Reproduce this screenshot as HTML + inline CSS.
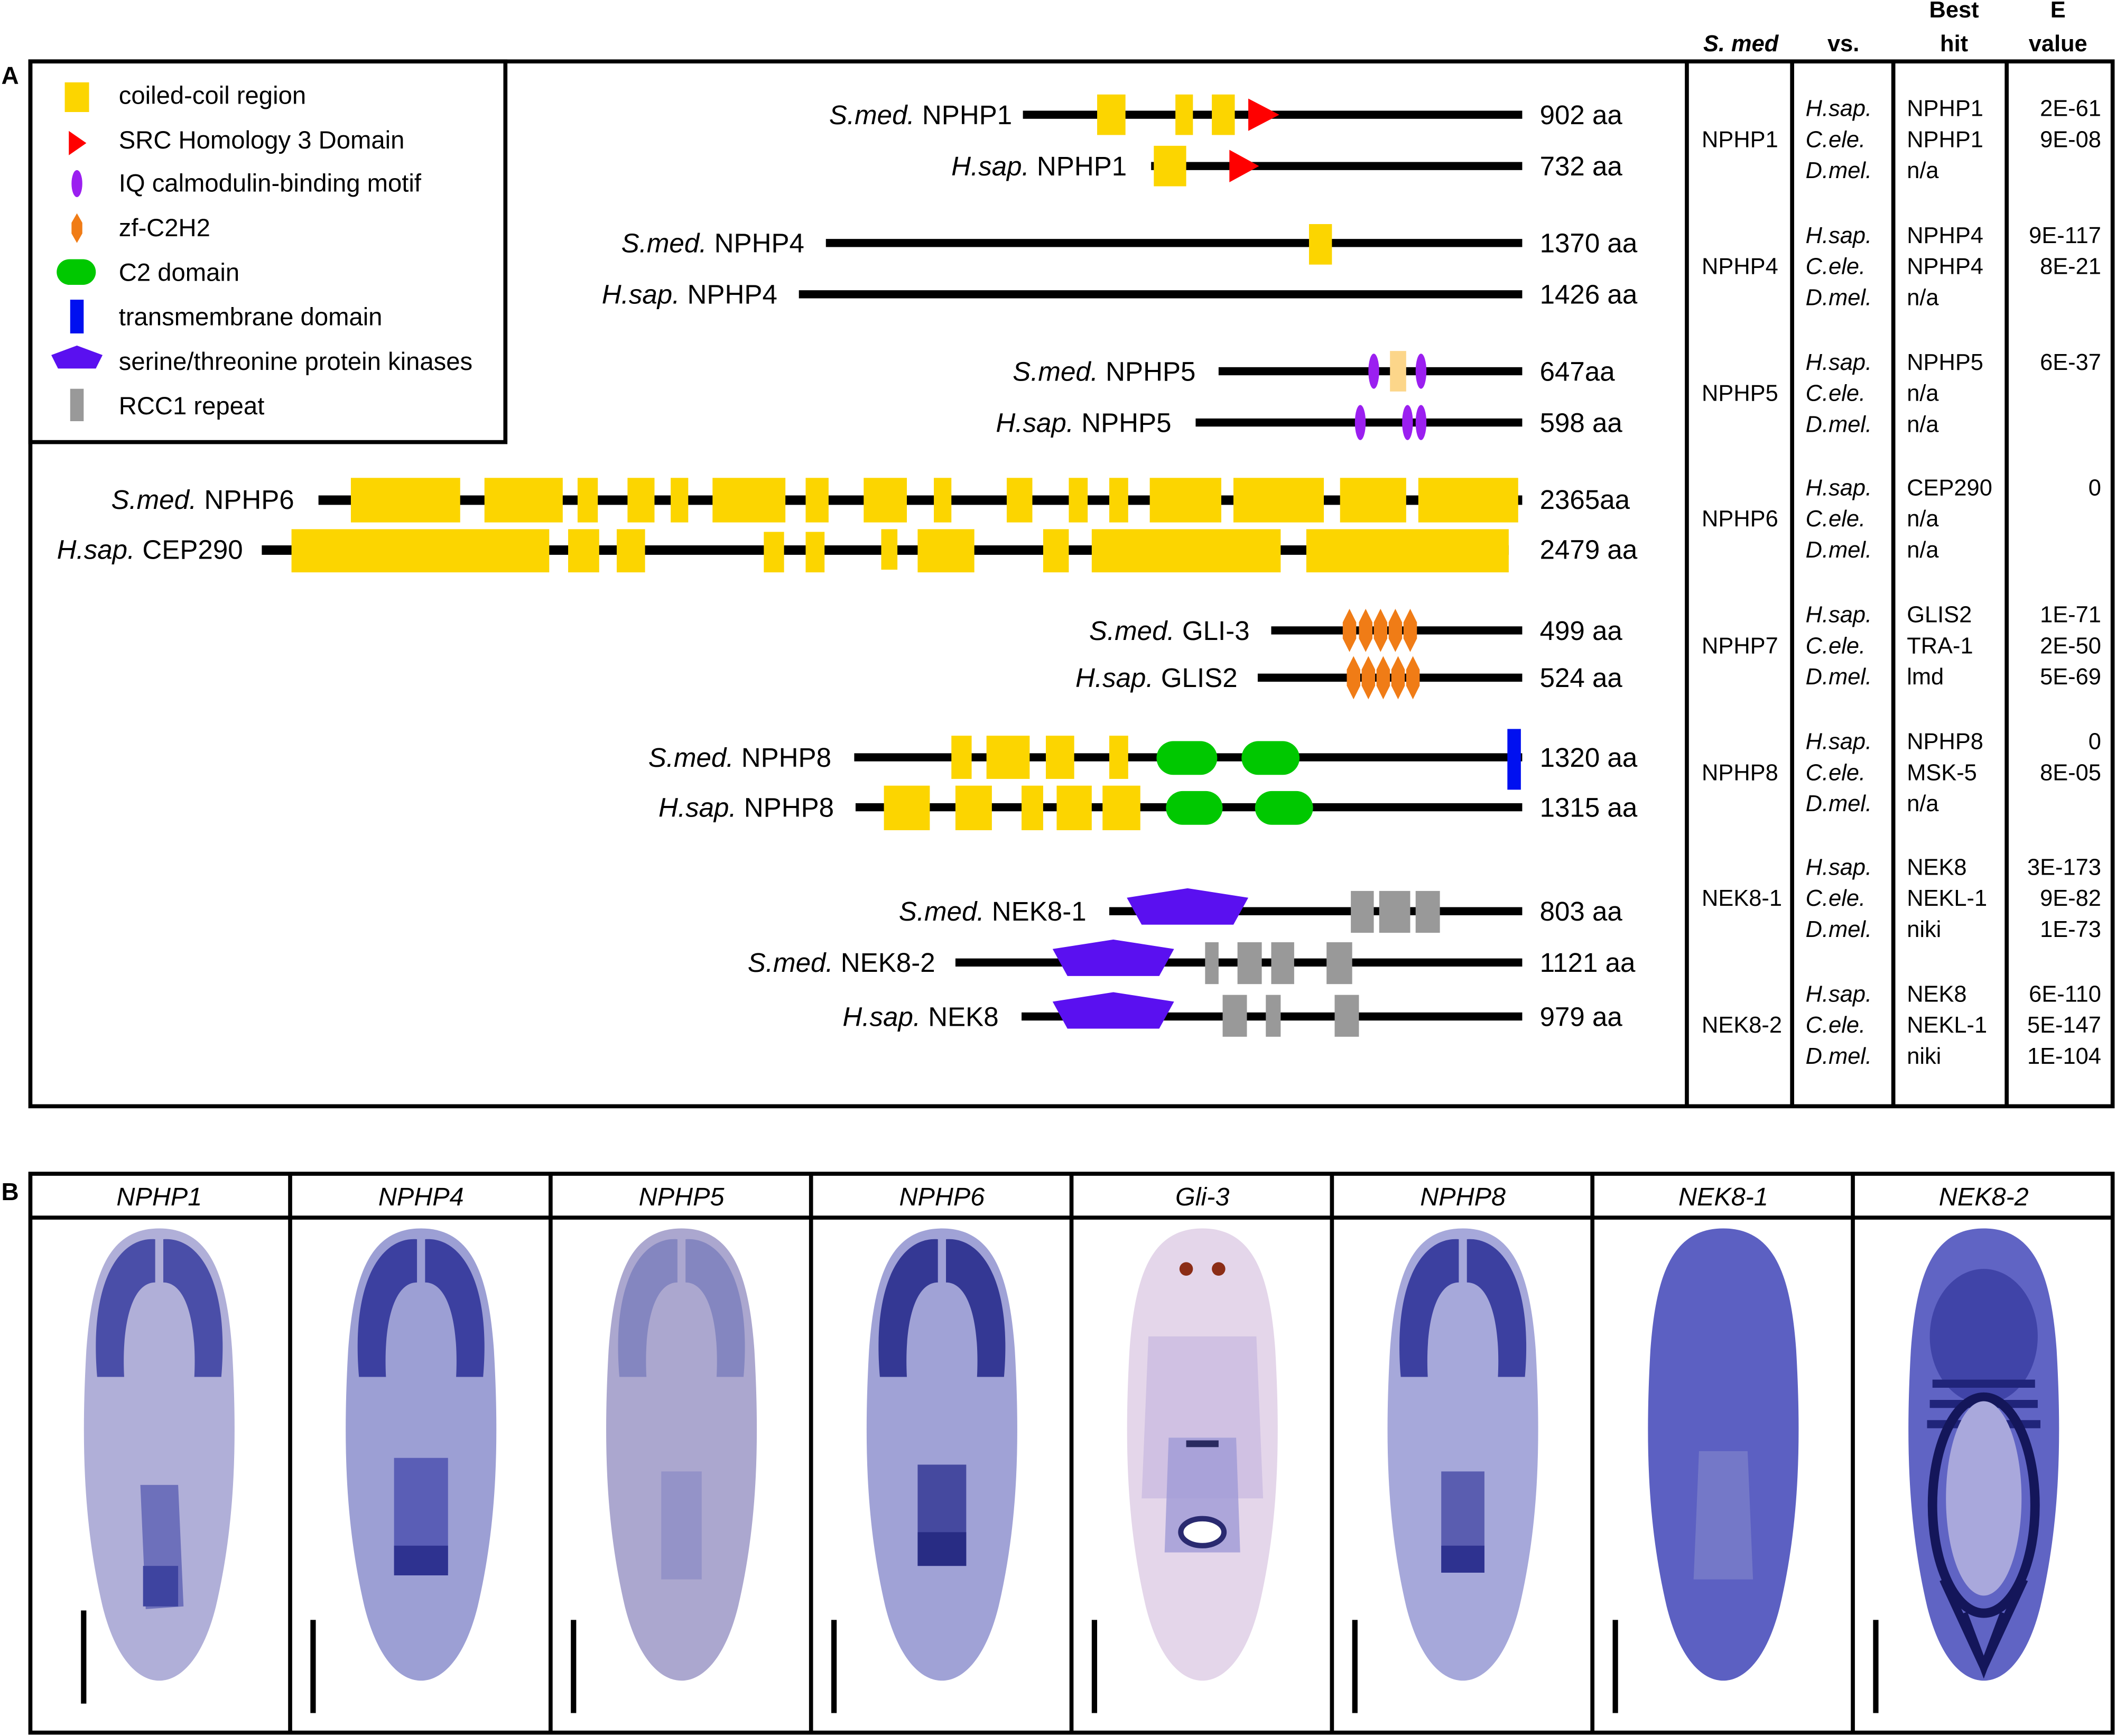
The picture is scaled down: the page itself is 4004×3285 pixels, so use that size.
<!DOCTYPE html>
<html><head><meta charset="utf-8"><style>html,body{margin:0;padding:0;background:#fff}svg{display:block}</style></head><body>
<svg width="4004" height="3285" viewBox="0 0 1568 1286" preserveAspectRatio="none" xmlns="http://www.w3.org/2000/svg" font-family="Liberation Sans, Arial, sans-serif">
<defs>
<path id="worm" d="M0,0 C38,0 50,35 54,90 C58,160 56,220 42,280 C32,320 15,335 0,335 C-15,335 -32,320 -42,280 C-56,220 -58,160 -54,90 C-50,35 -38,0 0,0Z"/>
<path id="pent" d="M-45,-8 L0,-15 L45,-8 L34,12 L-34,12Z"/>
<ellipse id="iq" rx="4" ry="13" fill="#9b1ff0"/>
<path id="zf" d="M0,-16 L5,-6 L5,6 L0,16 L-5,6 L-5,-6Z" fill="#f07c16"/>
<path id="head" d="M-46,110 C-52,40 -30,6 -3,8 L-3,40 C-20,40 -28,70 -26,110 Z M46,110 C52,40 30,6 3,8 L3,40 C20,40 28,70 26,110 Z"/>
</defs>
<rect width="1568" height="1286" fill="#fff"/>
<text x="1" y="62" font-size="18" font-weight="bold">A</text>
<rect x="22.5" y="45.5" width="1543" height="774" fill="none" stroke="#000" stroke-width="3"/>
<rect x="22.5" y="45.5" width="352" height="282" fill="none" stroke="#000" stroke-width="3"/>
<g stroke="#000" stroke-width="3"><line x1="1250" y1="45" x2="1250" y2="820"/><line x1="1328" y1="45" x2="1328" y2="820"/><line x1="1403" y1="45" x2="1403" y2="820"/><line x1="1487" y1="45" x2="1487" y2="820"/></g>
<g font-size="17" font-weight="bold">
<text x="1290" y="38" text-anchor="middle" font-style="italic">S. med</text>
<text x="1366" y="38" text-anchor="middle">vs.</text>
<text x="1448" y="13" text-anchor="middle">Best</text>
<text x="1448" y="38" text-anchor="middle">hit</text>
<text x="1525" y="13" text-anchor="middle">E</text>
<text x="1525" y="38" text-anchor="middle">value</text>
</g>
<g font-size="18.5">
<rect x="48" y="61" width="18" height="22" fill="#fcd500"/><text x="88" y="77">coiled-coil region</text>
<path d="M51,97 L64,106 L51,115Z" fill="#f00"/><text x="88" y="110">SRC Homology 3 Domain</text>
<ellipse cx="57" cy="136" rx="4" ry="10" fill="#9b1ff0"/><text x="88" y="142">IQ calmodulin-binding motif</text>
<path d="M57,158 L61,165 L61,173 L57,180 L53,173 L53,165Z" fill="#f07c16"/><text x="88" y="175">zf-C2H2</text>
<rect x="42" y="192" width="29" height="19" rx="9.5" fill="#00c800"/><text x="88" y="208">C2 domain</text>
<rect x="52" y="222" width="10" height="25" fill="#0010f0"/><text x="88" y="241">transmembrane domain</text>
<path d="M38,263 L57,256 L76,263 L71,273 L43,273Z" fill="#5a10f0"/><text x="88" y="274">serine/threonine protein kinases</text>
<rect x="52" y="288" width="10" height="24" fill="#999"/><text x="88" y="307">RCC1 repeat</text>
</g>
<g font-size="20">
<g text-anchor="end">
<text x="750" y="92"><tspan font-style="italic">S.med.</tspan> NPHP1</text>
<text x="835" y="130"><tspan font-style="italic">H.sap.</tspan> NPHP1</text>
<text x="596" y="187"><tspan font-style="italic">S.med.</tspan> NPHP4</text>
<text x="576" y="225"><tspan font-style="italic">H.sap.</tspan> NPHP4</text>
<text x="886" y="282"><tspan font-style="italic">S.med.</tspan> NPHP5</text>
<text x="868" y="320"><tspan font-style="italic">H.sap.</tspan> NPHP5</text>
<text x="218" y="377"><tspan font-style="italic">S.med.</tspan> NPHP6</text>
<text x="180" y="414"><tspan font-style="italic">H.sap.</tspan> CEP290</text>
<text x="926" y="474"><tspan font-style="italic">S.med.</tspan> GLI-3</text>
<text x="917" y="509"><tspan font-style="italic">H.sap.</tspan> GLIS2</text>
<text x="616" y="568"><tspan font-style="italic">S.med.</tspan> NPHP8</text>
<text x="618" y="605"><tspan font-style="italic">H.sap.</tspan> NPHP8</text>
<text x="805" y="682"><tspan font-style="italic">S.med.</tspan> NEK8-1</text>
<text x="693" y="720"><tspan font-style="italic">S.med.</tspan> NEK8-2</text>
<text x="740" y="760"><tspan font-style="italic">H.sap.</tspan> NEK8</text>
</g>
<text x="1141" y="92">902 aa</text><text x="1141" y="130">732 aa</text>
<text x="1141" y="187">1370 aa</text><text x="1141" y="225">1426 aa</text>
<text x="1141" y="282">647aa</text><text x="1141" y="320">598 aa</text>
<text x="1141" y="377">2365aa</text><text x="1141" y="414">2479 aa</text>
<text x="1141" y="474">499 aa</text><text x="1141" y="509">524 aa</text>
<text x="1141" y="568">1320 aa</text><text x="1141" y="605">1315 aa</text>
<text x="1141" y="682">803 aa</text><text x="1141" y="720">1121 aa</text>
<text x="1141" y="760">979 aa</text>
</g>
<g fill="#000">
<rect x="758" y="82" width="370" height="6"/><rect x="853" y="120" width="275" height="6"/>
<rect x="612" y="177" width="516" height="6"/><rect x="592" y="215" width="536" height="6"/>
<rect x="903" y="272" width="225" height="6"/><rect x="886" y="310" width="242" height="6"/>
<rect x="236" y="367" width="892" height="7"/><rect x="194" y="404" width="924" height="7"/>
<rect x="942" y="464" width="186" height="6"/><rect x="932" y="499" width="196" height="6"/>
<rect x="633" y="558" width="495" height="6"/><rect x="634" y="595" width="494" height="6"/>
<rect x="822" y="672" width="306" height="6"/><rect x="708" y="710" width="420" height="6"/>
<rect x="757" y="750" width="371" height="6"/>
</g>
<g fill="#fcd500">
<rect x="813" y="70" width="21" height="30"/><rect x="871" y="70" width="13" height="30"/><rect x="898" y="70" width="17" height="30"/>
<rect x="855" y="108" width="24" height="30"/>
<rect x="970" y="166" width="17" height="30"/>
<rect x="260" y="354" width="81" height="33"/><rect x="359" y="354" width="58" height="33"/><rect x="428" y="354" width="15" height="33"/><rect x="465" y="354" width="20" height="33"/><rect x="497" y="354" width="13" height="33"/><rect x="528" y="354" width="54" height="33"/><rect x="597" y="354" width="17" height="33"/><rect x="640" y="354" width="32" height="33"/><rect x="692" y="354" width="13" height="33"/><rect x="746" y="354" width="19" height="33"/><rect x="792" y="354" width="14" height="33"/><rect x="822" y="354" width="14" height="33"/><rect x="852" y="354" width="53" height="33"/><rect x="914" y="354" width="67" height="33"/><rect x="993" y="354" width="49" height="33"/><rect x="1051" y="354" width="74" height="33"/>
<rect x="216" y="392" width="191" height="32"/><rect x="421" y="392" width="23" height="32"/><rect x="457" y="392" width="21" height="32"/><rect x="566" y="394" width="15" height="30"/><rect x="597" y="394" width="14" height="30"/><rect x="653" y="392" width="12" height="30"/><rect x="680" y="392" width="42" height="32"/><rect x="773" y="392" width="19" height="32"/><rect x="809" y="392" width="140" height="32"/><rect x="968" y="392" width="150" height="32"/>
<rect x="705" y="545" width="15" height="32"/><rect x="731" y="545" width="32" height="32"/><rect x="775" y="545" width="21" height="32"/><rect x="822" y="545" width="14" height="32"/>
<rect x="655" y="582" width="34" height="33"/><rect x="708" y="582" width="27" height="33"/><rect x="757" y="582" width="16" height="33"/><rect x="783" y="582" width="26" height="33"/><rect x="817" y="582" width="28" height="33"/>
</g>
<path d="M925,73 L948,85 L925,97Z" fill="#f00"/><path d="M911,111 L933,123 L911,135Z" fill="#f00"/>
<rect x="1030" y="260" width="12" height="30" fill="#fcd68a"/>
<use href="#iq" x="1018" y="275"/><use href="#iq" x="1053" y="275"/>
<use href="#iq" x="1008" y="313"/><use href="#iq" x="1043" y="313"/><use href="#iq" x="1053" y="313"/>
<use href="#zf" x="1000" y="467"/><use href="#zf" x="1012" y="467"/><use href="#zf" x="1023" y="467"/><use href="#zf" x="1034" y="467"/><use href="#zf" x="1045" y="467"/>
<use href="#zf" x="1003" y="502"/><use href="#zf" x="1014" y="502"/><use href="#zf" x="1025" y="502"/><use href="#zf" x="1036" y="502"/><use href="#zf" x="1047" y="502"/>
<g fill="#00c800"><rect x="857" y="549" width="45" height="25" rx="12.5"/><rect x="920" y="549" width="43" height="25" rx="12.5"/><rect x="864" y="586" width="42" height="25" rx="12.5"/><rect x="930" y="586" width="43" height="25" rx="12.5"/></g>
<rect x="1117" y="540" width="10" height="45" fill="#0010f0"/>
<g fill="#5a10f0"><use href="#pent" x="880" y="673"/><use href="#pent" x="825" y="711"/><use href="#pent" x="825" y="750"/></g>
<g fill="#999">
<rect x="1001" y="660" width="17" height="31"/><rect x="1022" y="660" width="23" height="31"/><rect x="1049" y="660" width="18" height="31"/>
<rect x="893" y="698" width="10" height="31"/><rect x="917" y="698" width="18" height="31"/><rect x="942" y="698" width="17" height="31"/><rect x="983" y="698" width="19" height="31"/>
<rect x="906" y="737" width="18" height="31"/><rect x="938" y="737" width="11" height="31"/><rect x="989" y="737" width="18" height="31"/>
</g>
<g font-size="17">
<g>
<text x="1261" y="109">NPHP1</text><text x="1261" y="203">NPHP4</text><text x="1261" y="297">NPHP5</text><text x="1261" y="390">NPHP6</text><text x="1261" y="484">NPHP7</text><text x="1261" y="578">NPHP8</text><text x="1261" y="671">NEK8-1</text><text x="1261" y="765">NEK8-2</text>
</g>
<g font-style="italic">
<text x="1338" y="86">H.sap.</text><text x="1338" y="109">C.ele.</text><text x="1338" y="132">D.mel.</text>
<text x="1338" y="180">H.sap.</text><text x="1338" y="203">C.ele.</text><text x="1338" y="226">D.mel.</text>
<text x="1338" y="274">H.sap.</text><text x="1338" y="297">C.ele.</text><text x="1338" y="320">D.mel.</text>
<text x="1338" y="367">H.sap.</text><text x="1338" y="390">C.ele.</text><text x="1338" y="413">D.mel.</text>
<text x="1338" y="461">H.sap.</text><text x="1338" y="484">C.ele.</text><text x="1338" y="507">D.mel.</text>
<text x="1338" y="555">H.sap.</text><text x="1338" y="578">C.ele.</text><text x="1338" y="601">D.mel.</text>
<text x="1338" y="648">H.sap.</text><text x="1338" y="671">C.ele.</text><text x="1338" y="694">D.mel.</text>
<text x="1338" y="742">H.sap.</text><text x="1338" y="765">C.ele.</text><text x="1338" y="788">D.mel.</text>
</g>
<g>
<text x="1413" y="86">NPHP1</text><text x="1413" y="109">NPHP1</text><text x="1413" y="132">n/a</text>
<text x="1413" y="180">NPHP4</text><text x="1413" y="203">NPHP4</text><text x="1413" y="226">n/a</text>
<text x="1413" y="274">NPHP5</text><text x="1413" y="297">n/a</text><text x="1413" y="320">n/a</text>
<text x="1413" y="367">CEP290</text><text x="1413" y="390">n/a</text><text x="1413" y="413">n/a</text>
<text x="1413" y="461">GLIS2</text><text x="1413" y="484">TRA-1</text><text x="1413" y="507">lmd</text>
<text x="1413" y="555">NPHP8</text><text x="1413" y="578">MSK-5</text><text x="1413" y="601">n/a</text>
<text x="1413" y="648">NEK8</text><text x="1413" y="671">NEKL-1</text><text x="1413" y="694">niki</text>
<text x="1413" y="742">NEK8</text><text x="1413" y="765">NEKL-1</text><text x="1413" y="788">niki</text>
</g>
<g text-anchor="end">
<text x="1557" y="86">2E-61</text><text x="1557" y="109">9E-08</text>
<text x="1557" y="180">9E-117</text><text x="1557" y="203">8E-21</text>
<text x="1557" y="274">6E-37</text>
<text x="1557" y="367">0</text>
<text x="1557" y="461">1E-71</text><text x="1557" y="484">2E-50</text><text x="1557" y="507">5E-69</text>
<text x="1557" y="555">0</text><text x="1557" y="578">8E-05</text>
<text x="1557" y="648">3E-173</text><text x="1557" y="671">9E-82</text><text x="1557" y="694">1E-73</text>
<text x="1557" y="742">6E-110</text><text x="1557" y="765">5E-147</text><text x="1557" y="788">1E-104</text>
</g>
</g>
<text x="1" y="889" font-size="18" font-weight="bold">B</text>
<g transform="translate(118,910)"><use href="#worm" fill="#b0afd8"/><use href="#head" fill="#4a4ea8"/><path d="M-14,190 L14,190 L18,280 L-10,282Z" fill="#6d70bb"/><rect x="-12" y="250" width="26" height="30" fill="#3e44a0"/></g>
<g transform="translate(312,910)"><use href="#worm" fill="#9c9fd4"/><use href="#head" fill="#3c40a0"/><path d="M-20,170 L20,170 L20,255 L-20,255Z" fill="#5a5eb6"/><rect x="-20" y="235" width="40" height="22" fill="#2e3290"/></g>
<g transform="translate(505,910)"><use href="#worm" fill="#aba7cf"/><use href="#head" fill="#8486c0"/><path d="M-15,180 L15,180 L15,260 L-15,260Z" fill="#9493c8"/></g>
<g transform="translate(698,910)"><use href="#worm" fill="#a0a2d6"/><use href="#head" fill="#343894"/><path d="M-18,175 L18,175 L18,250 L-18,250Z" fill="#45499f"/><rect x="-18" y="225" width="36" height="25" fill="#282c84"/></g>
<g transform="translate(891,910)"><use href="#worm" fill="#e4d6ea"/><circle cx="-12" cy="30" r="5" fill="#8b2d16"/><circle cx="12" cy="30" r="5" fill="#8b2d16"/><path d="M-40,80 L40,80 L45,200 L-45,200Z" fill="#c8b8e0" opacity="0.7"/><path d="M-25,155 L25,155 L28,240 L-28,240Z" fill="#9f9ad6" opacity="0.8"/><ellipse cx="0" cy="225" rx="16" ry="10" fill="#fff" stroke="#2a2a70" stroke-width="4"/><rect x="-12" y="157" width="24" height="5" fill="#2a2a60"/></g>
<g transform="translate(1084,910)"><use href="#worm" fill="#a6a8da"/><use href="#head" fill="#3c40a0"/><path d="M-16,180 L16,180 L16,255 L-16,255Z" fill="#5a5db0"/><rect x="-16" y="235" width="32" height="20" fill="#2e3290"/></g>
<g transform="translate(1277,910)"><use href="#worm" fill="#5c60c2"/><path d="M-18,165 L18,165 L22,260 L-22,260Z" fill="#7478c8"/></g>
<g transform="translate(1470,910)"><use href="#worm" fill="#6064c4"/><ellipse cx="0" cy="80" rx="40" ry="50" fill="#4044a8"/><path d="M-40,130 L40,130 M-42,145 L42,145 M-38,115 L38,115" stroke="#20247a" stroke-width="6"/><ellipse cx="0" cy="205" rx="38" ry="80" fill="none" stroke="#14165a" stroke-width="7"/><path d="M-30,260 L0,325 L30,260 M-15,285 L0,325 L15,285" fill="none" stroke="#14165a" stroke-width="6"/><ellipse cx="0" cy="200" rx="28" ry="72" fill="#a9a8dc"/></g>
<g fill="#000">
<rect x="60" y="1193" width="4" height="69"/><rect x="230" y="1200" width="4" height="69"/><rect x="423" y="1200" width="4" height="69"/><rect x="616" y="1200" width="4" height="69"/><rect x="809" y="1200" width="4" height="69"/><rect x="1002" y="1200" width="4" height="69"/><rect x="1195" y="1200" width="4" height="69"/><rect x="1388" y="1200" width="4" height="69"/>
</g>
<rect x="22.5" y="869.5" width="1543" height="414" fill="none" stroke="#000" stroke-width="3"/>
<line x1="22" y1="902" x2="1566" y2="902" stroke="#000" stroke-width="3"/>
<g stroke="#000" stroke-width="3"><line x1="215" y1="869" x2="215" y2="1284"/><line x1="408" y1="869" x2="408" y2="1284"/><line x1="601" y1="869" x2="601" y2="1284"/><line x1="794" y1="869" x2="794" y2="1284"/><line x1="987" y1="869" x2="987" y2="1284"/><line x1="1180" y1="869" x2="1180" y2="1284"/><line x1="1373" y1="869" x2="1373" y2="1284"/></g>
<g font-size="19" font-style="italic" text-anchor="middle">
<text x="118" y="893">NPHP1</text><text x="312" y="893">NPHP4</text><text x="505" y="893">NPHP5</text><text x="698" y="893">NPHP6</text><text x="891" y="893">Gli-3</text><text x="1084" y="893">NPHP8</text><text x="1277" y="893">NEK8-1</text><text x="1470" y="893">NEK8-2</text>
</g>
</svg>
</body></html>
